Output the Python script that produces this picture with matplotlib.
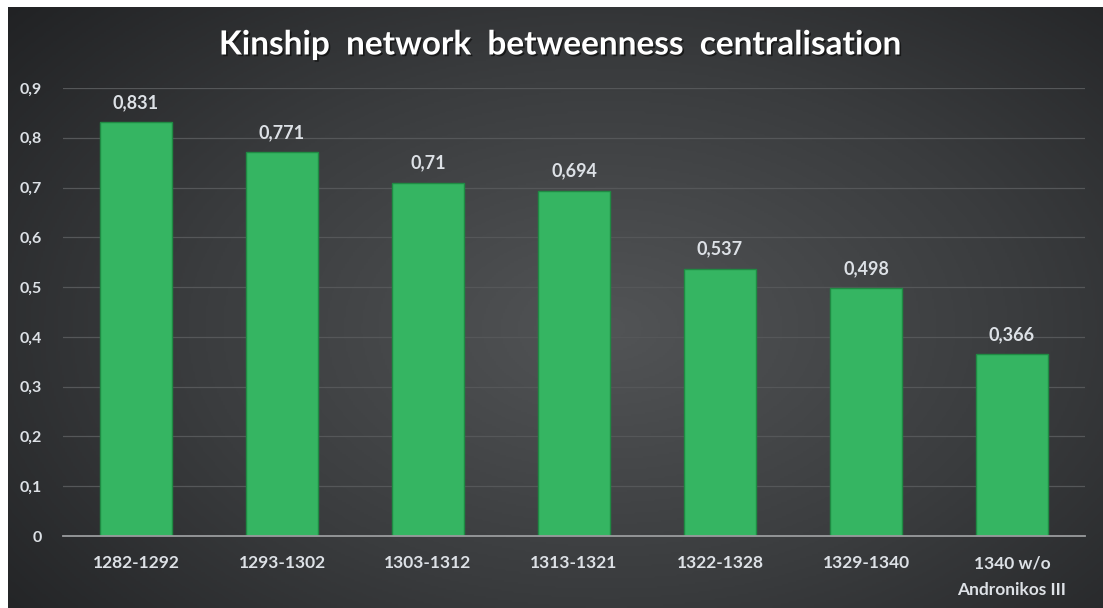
import numpy as np
import matplotlib.pyplot as plt
from matplotlib.colors import LinearSegmentedColormap
import matplotlib.patheffects as pe

periods = ['1282-1292', '1293-1302', '1303-1312', '1313-1321',
           '1322-1328', '1329-1340', '1340 w/o\nAndronikos III']
centralisation = [0.831, 0.771, 0.71, 0.694, 0.537, 0.498, 0.366]
value_labels = ['0,831', '0,771', '0,71', '0,694', '0,537', '0,498', '0,366']
yticks = [0, 0.1, 0.2, 0.3, 0.4, 0.5, 0.6, 0.7, 0.8, 0.9]
ytick_labels = ['0', '0,1', '0,2', '0,3', '0,4', '0,5', '0,6', '0,7', '0,8', '0,9']

plt.rcParams['font.family'] = ['Lato', 'DejaVu Sans']
W, H = 1103, 608
fig = plt.figure(figsize=(W / 100, H / 100), dpi=100, facecolor='white')

# dark background with radial lighter centre
bg = fig.add_axes([8 / W, 0, (W - 8) / W, (H - 7) / H])
yy, xx = np.mgrid[0:300, 0:550]
r = np.sqrt(((xx - 300) / 420.0) ** 2 + ((yy - 160) / 260.0) ** 2)
cmap = LinearSegmentedColormap.from_list('bg', ['#525456', '#3a3c3e', '#1e1f21'])
bg.imshow(np.clip(r, 0, 1), cmap=cmap, aspect='auto', vmin=0, vmax=1)
bg.axis('off')

ax = fig.add_axes([63 / W, (H - 536) / H, (1085 - 63) / W, (536 - 88) / H])
ax.patch.set_alpha(0)
x = np.arange(len(periods))
ax.bar(x, centralisation, width=0.49, color='#35b562', edgecolor='#1f8a43',
       linewidth=1.0, zorder=3)
ax.set_xlim(-0.5, len(periods) - 0.5)
ax.set_ylim(0, 0.9)
ax.set_yticks(yticks)
ax.set_yticklabels(ytick_labels)
ax.set_xticks(x)
ax.set_xticklabels(periods)
ax.grid(axis='y', color='#555759', linewidth=0.9, zorder=0)
for s in ['top', 'right', 'left']:
    ax.spines[s].set_visible(False)
ax.spines['bottom'].set_color('#9a9c9e')
ax.spines['bottom'].set_linewidth(1.3)
ax.spines['bottom'].set_zorder(4)
ax.tick_params(length=0, colors='#dde1e6', labelsize=12.5)
ax.tick_params(axis='x', pad=14)
ax.tick_params(axis='y', pad=15, labelsize=11.5)
for lab in ax.get_xticklabels() + ax.get_yticklabels():
    lab.set_fontweight('bold')
    lab.set_linespacing(1.85)

for xi, v, s in zip(x, centralisation, value_labels):
    ax.text(xi, v + 0.022, s, ha='center', va='bottom', color='#dde1e6',
            fontsize=13, fontweight='bold')

fig.text(0.508, (H - 45) / H, 'Kinship  network  betweenness  centralisation',
         ha='center', va='center', color='white', fontsize=24, fontweight='bold',
         path_effects=[pe.withSimplePatchShadow(offset=(1.2, -1.2), shadow_rgbFace='#111111', alpha=0.8)])

fig.savefig('out.png', dpi=100, facecolor='white')
